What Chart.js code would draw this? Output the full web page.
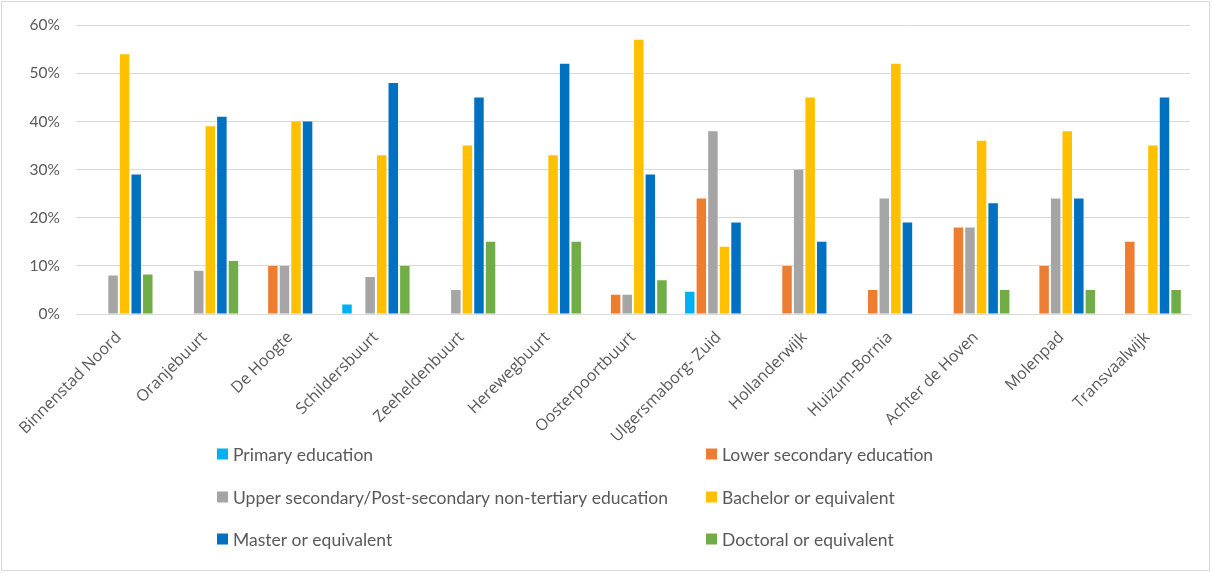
<!DOCTYPE html>
<html>
<head>
<meta charset="utf-8">
<script src="https://cdn.jsdelivr.net/npm/chart.js@4/dist/chart.umd.min.js"></script>
<style>
  html, body { margin: 0; padding: 0; background: #fff; }
  #wrap { width: 1212px; height: 573px; position: relative; }
</style>
</head>
<body>
<div id="wrap"><canvas id="c" width="1212" height="573"></canvas></div>
<script>
// Neighbourhoods
const neighbourhoods = [
  'Binnenstad Noord', 'Oranjebuurt', 'De Hoogte', 'Schildersbuurt', 'Zeeheldenbuurt',
  'Herewegbuurt', 'Oosterpoortbuurt', 'Ulgersmaborg- Zuid', 'Hollanderwijk',
  'Huizum-Bornia', 'Achter de Hoven', 'Molenpad', 'Transvaalwijk'
];

// Share of residents (%) by highest education level
const primaryEducation   = [0,   0,  0,  2,   0,  0,  0,  4.6, 0,  0,  0,  0,  0];
const lowerSecondary     = [0,   0,  10, 0,   0,  0,  4,  24,  10, 5,  18, 10, 15];
const upperSecondary     = [8,   9,  10, 7.7, 5,  0,  4,  38,  30, 24, 18, 24, 0];
const bachelor           = [54,  39, 40, 33,  35, 33, 57, 14,  45, 52, 36, 38, 35];
const master             = [29,  41, 40, 48,  45, 52, 29, 19,  15, 19, 23, 24, 45];
const doctoral           = [8.2, 11, 0,  10,  15, 15, 7,  0,   0,  0,  5,  5,  5];

const seriesNames = [
  'Primary education',
  'Lower secondary education',
  'Upper secondary/Post-secondary non-tertiary education',
  'Bachelor or equivalent',
  'Master or equivalent',
  'Doctoral or equivalent'
];
const seriesColors = ['#00B0F0', '#ED7D31', '#A5A5A5', '#FFC000', '#0070C0', '#70AD47'];
const seriesValues = [primaryEducation, lowerSecondary, upperSecondary, bachelor, master, doctoral];

const yTicks = [0, 10, 20, 30, 40, 50, 60];

// Two-column legend under the axis labels, plus the thin frame around the chart
const frameAndLegend = {
  id: 'frameAndLegend',
  afterDraw(chart) {
    const ctx = chart.ctx;
    ctx.save();
    ctx.strokeStyle = '#d9d9d9';
    ctx.lineWidth = 1;
    ctx.strokeRect(1.5, 1.5, 1208, 569);

    const cols = [217, 706];
    const rows = [454, 497, 539];
    ctx.font = '17.5px Lato, "Liberation Sans", sans-serif';
    ctx.textBaseline = 'middle';
    ctx.textAlign = 'left';
    chart.data.datasets.forEach((ds, i) => {
      const x = cols[i % 2];
      const y = rows[Math.floor(i / 2)];
      ctx.fillStyle = ds.backgroundColor;
      ctx.fillRect(x, y - 5.5, 11, 11);
      ctx.fillStyle = '#595959';
      ctx.fillText(ds.label, x + 16, y + 1);
    });
    ctx.restore();
  }
};

new Chart(document.getElementById('c'), {
  type: 'bar',
  data: {
    labels: neighbourhoods,
    datasets: seriesNames.map((name, i) => ({
      label: name,
      data: seriesValues[i],
      backgroundColor: seriesColors[i],
      borderWidth: 0,
      categoryPercentage: 0.81,
      barPercentage: 0.82
    }))
  },
  options: {
    responsive: false,
    animation: false,
    layout: { padding: { left: 0, right: 22, top: 17, bottom: 124 } },
    plugins: {
      legend: { display: false },
      tooltip: { enabled: false }
    },
    scales: {
      x: {
        grid: { display: false, drawTicks: false },
        border: { display: true, color: '#d9d9d9', width: 1 },
        ticks: {
          minRotation: 45,
          maxRotation: 45,
          autoSkip: false,
          padding: 14,
          color: '#595959',
          font: { family: '"Open Sans", sans-serif', size: 16 }
        },
        afterFit(scale) { scale.height = 135; }
      },
      y: {
        min: 0,
        max: 60,
        afterBuildTicks(scale) { scale.ticks = yTicks.map(v => ({ value: v })); },
        grid: { color: '#d9d9d9', lineWidth: 1, drawTicks: false },
        border: { display: false },
        ticks: {
          padding: 16,
          color: '#595959',
          font: { family: 'Lato, "Liberation Sans", sans-serif', size: 15.5 },
          callback: v => v + '%'
        },
        afterFit(scale) { scale.width = 76; }
      }
    }
  },
  plugins: [frameAndLegend]
});
</script>
</body>
</html>
